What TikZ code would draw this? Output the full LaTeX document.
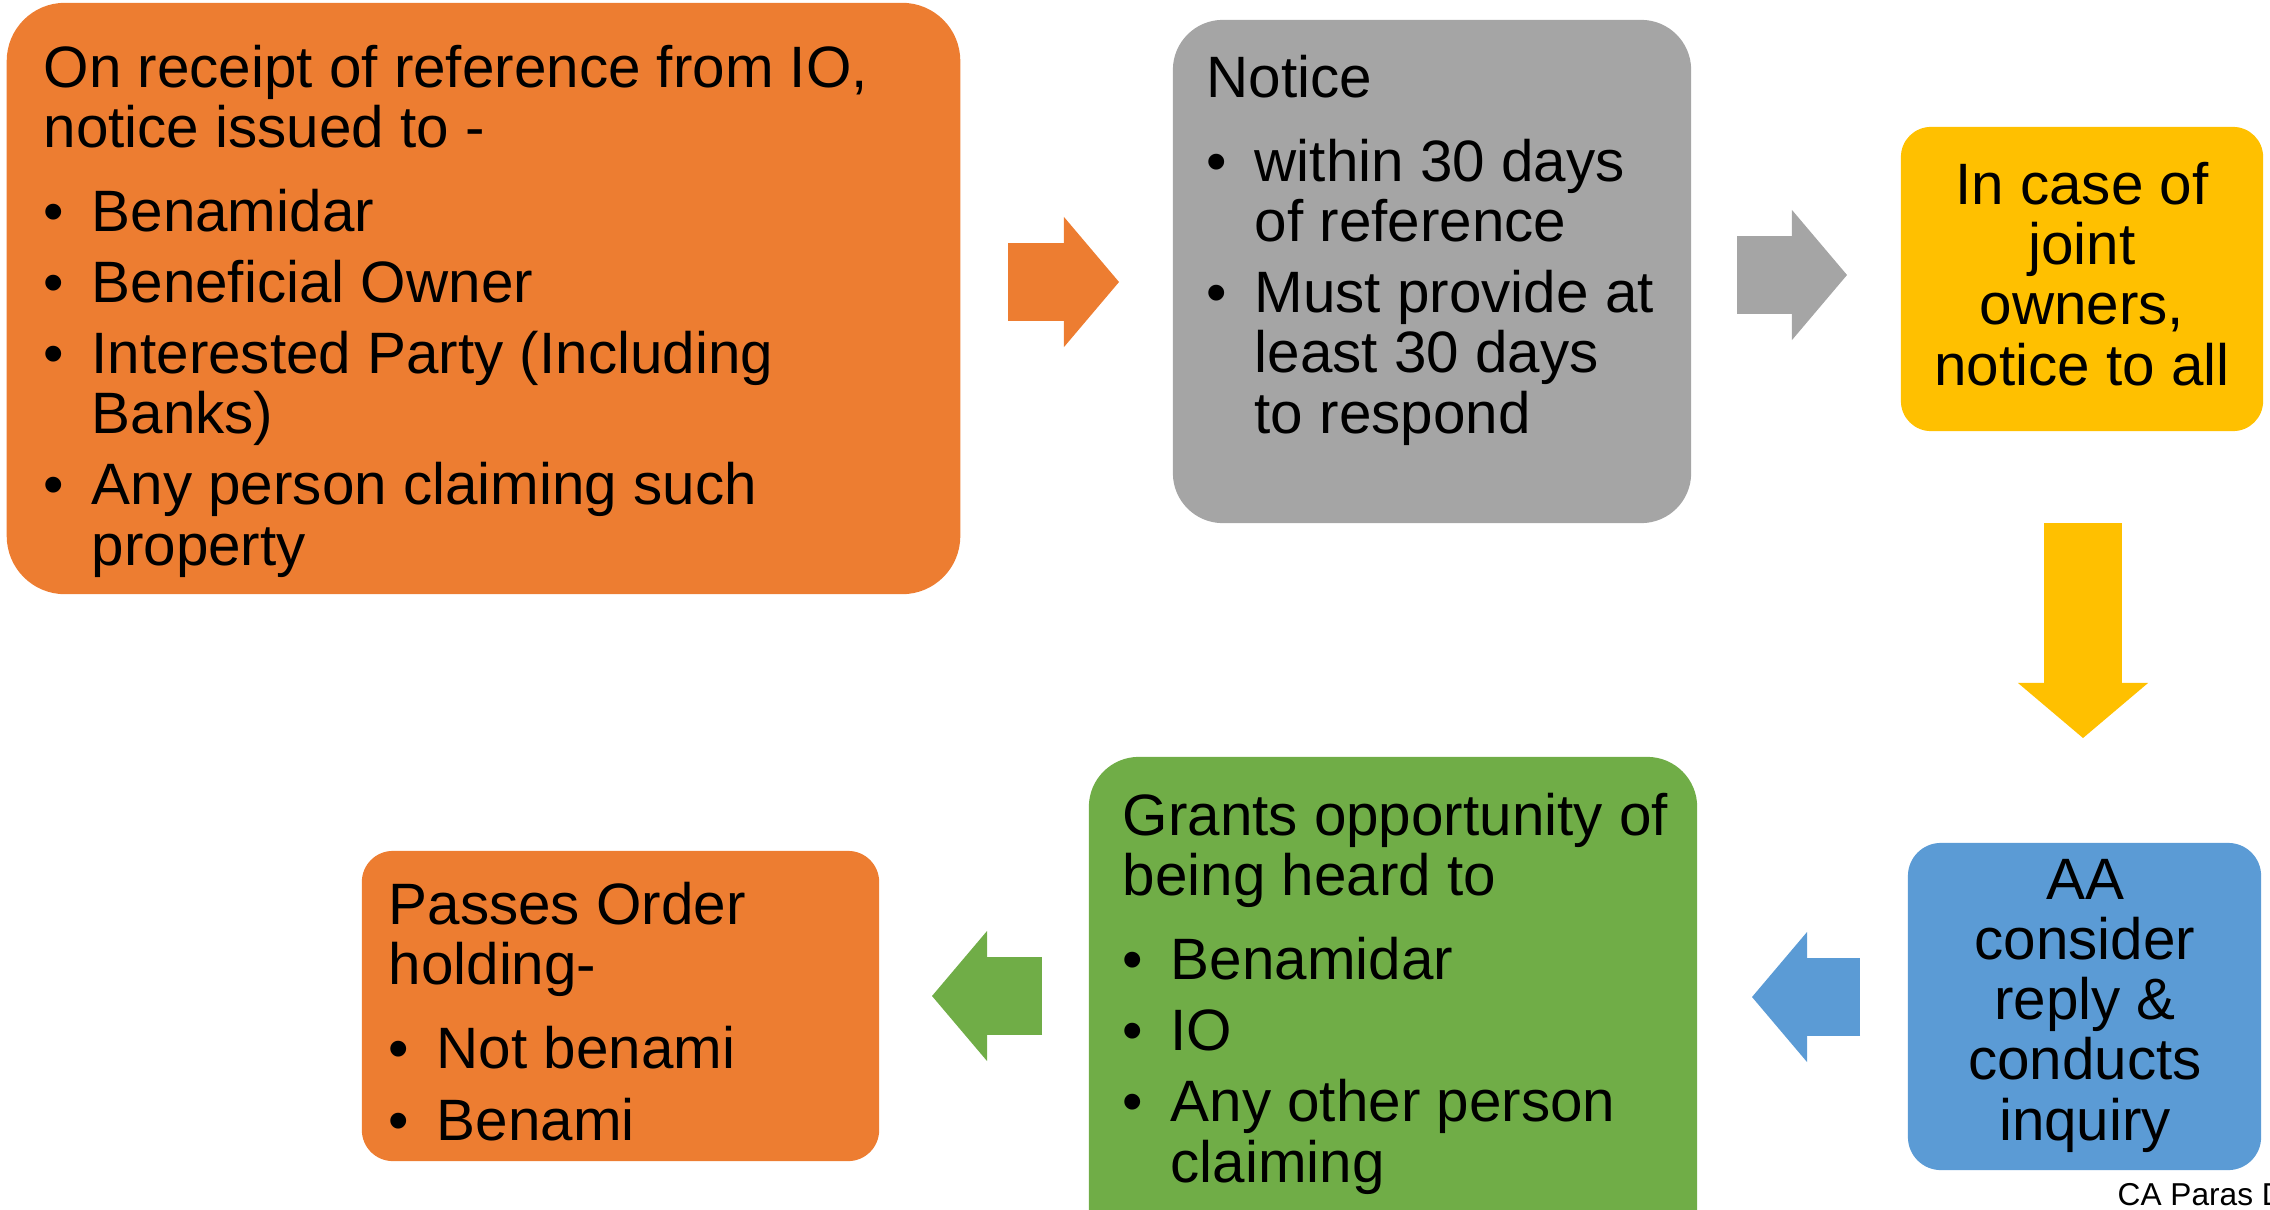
\documentclass[tikz,border=0pt]{standalone}
\usepackage{fontspec}
\setmainfont{Liberation Sans}
\usepackage{xcolor}
\definecolor{boxorange}{HTML}{ED7D31}
\definecolor{boxgray}{HTML}{A5A5A5}
\definecolor{boxgold}{HTML}{FFC000}
\definecolor{boxblue}{HTML}{5B9BD5}
\definecolor{boxgreen}{HTML}{70AD47}
\usepackage{tikz}
\usetikzlibrary{arrows.meta,positioning}

\newcommand{\bitem}[1]{\makebox[0.48cm][l]{\textbullet}#1}
\newcommand{\bcont}[1]{\hspace*{0.48cm}#1}

\begin{document}
\begin{tikzpicture}[x=0.01cm, y=-0.01cm,
    card/.style={rectangle, draw=none, inner sep=0pt},
    txt/.style={inner sep=0pt, align=left, anchor=base west, text=black, font={\fontsize{16.6}{17.07}\selectfont}},
    blk/.style={line width=0.78cm, -{Triangle[length=0.55cm, width=1.3cm, line width=0pt]}},
  ]
    \useasboundingbox (0,0) rectangle (2270,1209);
    \clip (0,0) rectangle (2270,1209);
    % Boxes
    \node[card, fill=boxorange, minimum width=9.53cm, minimum height=5.91cm, rounded corners=0.58cm] (rcpt) at (483.5,298.5) {};
    \node[card, fill=boxgray, minimum width=5.18cm, minimum height=5.03cm, rounded corners=0.5cm] (ntc) at (1432,271.5) {};
    \node[card, fill=boxgold, minimum width=3.62cm, minimum height=3.04cm, rounded corners=0.3cm] (jnt) at (2082,279) {};
    \node[card, fill=boxblue, minimum width=3.53cm, minimum height=3.27cm, rounded corners=0.33cm] (cons) at (2084.5,1006.5) {};
    \node[card, fill=boxgreen, minimum width=6.08cm, minimum height=5.03cm, rounded corners=0.5cm] (hear) at (1393,1008.5) {};
    \node[card, fill=boxorange, minimum width=5.17cm, minimum height=3.10cm, rounded corners=0.31cm] (ordr) at (620.5,1006) {};
    % Texts (placed at the baseline of their last line)
    \node[txt] (rcpt-t) at (43,565) {On receipt of reference from IO,\\
      notice issued to -\\[0.24cm]
      \bitem{Benamidar}\\[0.11cm]
      \bitem{Beneficial Owner}\\[0.11cm]
      \bitem{Interested Party (Including}\\
      \bcont{Banks)}\\[0.11cm]
      \bitem{Any person claiming such}\\
      \bcont{property}};
    \node[txt] (ntc-t) at (1206,433) {Notice\\[0.24cm]
      \bitem{within 30 days}\\
      \bcont{of reference}\\[0.11cm]
      \bitem{Must provide at}\\
      \bcont{least 30 days}\\
      \bcont{to respond}};
    \node[txt, anchor=base, align=center] (jnt-t) at (2082,385) {In case of\\joint\\owners,\\notice to all};
    \node[txt, anchor=base, align=center] (cons-t) at (2085,1140) {AA\\consider\\reply \&\\conducts\\inquiry};
    \node[txt] (hear-t) at (1122,1182) {Grants opportunity of\\
      being heard to\\[0.24cm]
      \bitem{Benamidar}\\[0.11cm]
      \bitem{IO}\\[0.11cm]
      \bitem{Any other person}\\
      \bcont{claiming}};
    \node[txt] (ordr-t) at (388,1140) {Passes Order\\
      holding-\\[0.24cm]
      \bitem{Not benami}\\[0.11cm]
      \bitem{Benami}};
    % Arrows
    \coordinate (a1s) at (1008,282);
    \coordinate (a1e) at (1119,282);
    \coordinate (a2s) at (1737,275);
    \coordinate (a2e) at (1847,275);
    \coordinate (a3s) at (2083,523);
    \coordinate (a3e) at (2083,738);
    \coordinate (a4s) at (1860,997);
    \coordinate (a4e) at (1752,997);
    \coordinate (a5s) at (1042,996);
    \coordinate (a5e) at (932,996);
    \draw[blk, boxorange] (a1s) -- (a1e);
    \draw[blk, boxgray] (a2s) -- (a2e);
    \draw[blk, boxgold] (a3s) -- (a3e);
    \draw[blk, boxblue] (a4s) -- (a4e);
    \draw[blk, boxgreen] (a5s) -- (a5e);
    % Credit
    \node[inner sep=0pt, anchor=base west, font={\fontsize{9}{11}\selectfont}] (cred) at (2117,1205) {CA Paras D};
  \end{tikzpicture}
\end{document}
